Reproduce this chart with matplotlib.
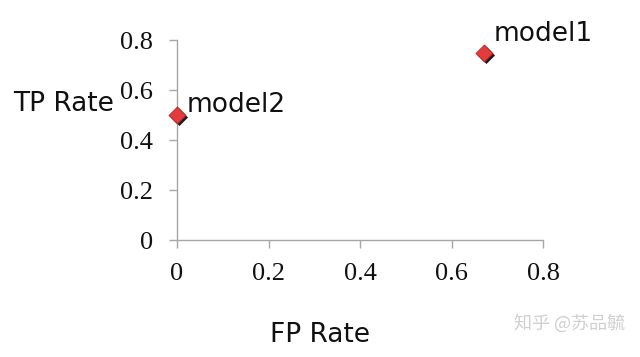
import matplotlib
matplotlib.use('Agg')
import matplotlib.pyplot as plt
from matplotlib import transforms

# data
names = ['model1', 'model2']
fp_rate = [0.67, 0.0]
tp_rate = [0.75, 0.5]
ticks = [0, 0.2, 0.4, 0.6, 0.8]
tick_labels = ['0', '0.2', '0.4', '0.6', '0.8']

# label offsets in points, per point
label_offsets = {'model1': (7.5, 8), 'model2': (7, 2.5)}

fig = plt.figure(figsize=(6.4, 3.57), dpi=100)
ax = fig.add_axes([0.2766, 0.3277, 0.5719, 0.5602])

gray = '#a6a6a6'
for side in ['top', 'right']:
    ax.spines[side].set_visible(False)
for side in ['left', 'bottom']:
    ax.spines[side].set_color(gray)
    ax.spines[side].set_linewidth(1.0)

ax.set_xlim(0, 0.8)
ax.set_ylim(0, 0.8)
ax.set_xticks(ticks)
ax.set_xticklabels(tick_labels, fontfamily='Liberation Serif', fontsize=19)
ax.set_yticks(ticks)
ax.set_yticklabels(tick_labels, fontfamily='Liberation Serif', fontsize=19)
ax.tick_params(axis='both', length=5.5, width=1.0, color=gray, labelcolor='#111111')
ax.tick_params(axis='x', pad=11)
ax.tick_params(axis='y', pad=12)

# diamond markers with a dark drop shadow
shadow = transforms.offset_copy(ax.transData, fig=fig, x=2.0, y=-2.0, units='dots')
ax.scatter(fp_rate, tp_rate, marker='D', s=75, color='#1a1a1a',
           transform=shadow, clip_on=False, zorder=3, linewidths=0)
ax.scatter(fp_rate, tp_rate, marker='D', s=75, color='#e23c3c',
           edgecolors='#b52020', linewidths=0.6, clip_on=False, zorder=4)

for name, x, y in zip(names, fp_rate, tp_rate):
    ax.annotate(name, (x, y), xytext=label_offsets[name], textcoords='offset points',
                fontsize=19, fontfamily='DejaVu Sans', color='#111111',
                va='baseline', ha='left', annotation_clip=False)

fig.text(13 / 640, 1 - 104 / 357, 'TP Rate', fontsize=19, fontfamily='DejaVu Sans',
         ha='left', va='center', color='#111111')
fig.text(320 / 640, 1 - 335 / 357, 'FP Rate', fontsize=19, fontfamily='DejaVu Sans',
         ha='center', va='center', color='#111111')

fig.text(569 / 640, 1 - 323 / 357, '知乎 @苏品毓', fontsize=13,
         fontfamily=['Noto Sans CJK SC', 'DejaVu Sans'],
         ha='center', va='center', color='#d0d0d0')

fig.savefig('out.png', dpi=100)
